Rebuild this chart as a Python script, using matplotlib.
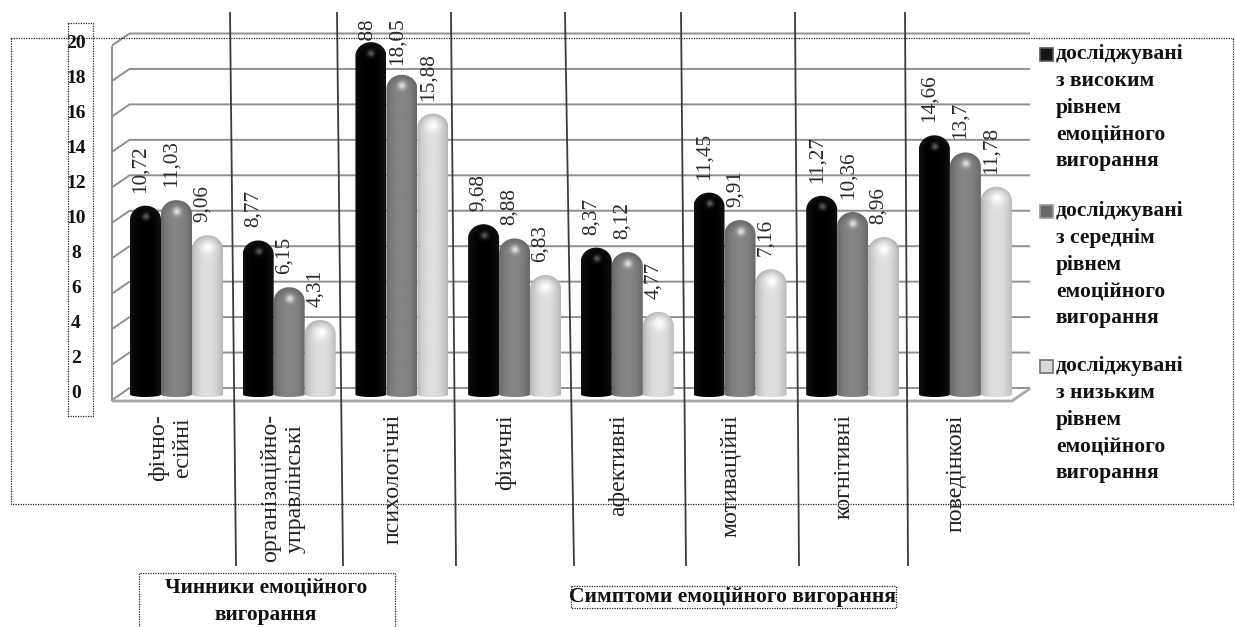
import numpy as np
import matplotlib
matplotlib.use("Agg")
import matplotlib.pyplot as plt
from matplotlib.path import Path
from matplotlib.patches import PathPatch, Rectangle
from matplotlib.transforms import Affine2D

plt.rcParams["font.family"] = ["Liberation Serif", "DejaVu Serif"]

# --- chart values -------------------------------------------------------
categories = ["фічно-\nесійні", "організаційно-\nуправлінські", "психологічні",
              "фізичні", "афективні", "мотиваційні", "когнітивні", "поведінкові"]
high_level = [10.72, 8.77, 19.88, 9.68, 8.37, 11.45, 11.27, 14.66]
mid_level = [11.03, 6.15, 18.05, 8.88, 8.12, 9.91, 10.36, 13.7]
low_level = [9.06, 4.31, 15.88, 6.83, 4.77, 7.16, 8.96, 11.78]
y_ticks = [0, 2, 4, 6, 8, 10, 12, 14, 16, 18, 20]
legend_names = ["досліджувані\nз високим\nрівнем\nемоційного\nвигорання",
                "досліджувані\nз середнім\nрівнем\nемоційного\nвигорання",
                "досліджувані\nз низьким\nрівнем\nемоційного\nвигорання"]

W, H = 1235, 627
fig = plt.figure(figsize=(W / 100, H / 100), dpi=100, facecolor="white")
ax = fig.add_axes([0, 0, 1, 1])
ax.axis("off")

# Value axis scale: 17.85 px per unit with the base at y=397; categories 112.7 px apart.
UNIT_Y, BASE_Y = 17.85, 397
UNIT_X, FIRST_X = 112.7, 176.5
ax.set_xlim((0 - FIRST_X) / UNIT_X, (W - FIRST_X) / UNIT_X)
ax.set_ylim((BASE_Y - H) / UNIT_Y, BASE_Y / UNIT_Y)

# Transform for frame furniture given in top-left based pixels.
px = Affine2D().scale(1, -1).translate(0, H)


def hline(xs, ys, color="#8f8f8f", lw=1.4, z=1, **kw):
    ax.plot(xs, ys, color=color, lw=lw, transform=px, zorder=z,
            solid_capstyle="butt", clip_on=False, **kw)


# Back wall grid and side wall
for k in range(len(y_ticks)):
    y = 33.5 + 35.45 * k
    hline([112, 129.5, 1030], [y + 12, y, y])
hline([112, 112], [45.5, 401])
hline([112, 1012, 1030], [401, 401, 388.5], color="#a8a8a8", lw=2)

# Separators between categories
sep_top = [230, 337, 451, 565, 681, 795, 905]
sep_bottom = [236, 343, 456, 574, 686, 799, 908]
for a, b in zip(sep_top, sep_bottom):
    hline([a, b], [12, 566], color="#3c3c3c", lw=1.3, z=2)

# Shading per series: centre level, edge level, highlight strength, highlight size
styles = [(0.0, 0.07, 0.36, 2.4), (0.52, 0.40, 0.36, 2.8), (0.87, 0.70, 0.12, 5.0)]
BAR_W = 31 / UNIT_X
DOME_PX = 14


def draw_bar(x_c, value, style):
    x0, x1 = x_c - BAR_W / 2, x_c + BAR_W / 2
    dome = DOME_PX / UNIT_Y
    foot = 2.5 / UNIT_Y
    th = np.linspace(0, np.pi, 40)
    top_x = x_c + BAR_W / 2 * np.cos(th)
    top_y = value - dome + dome * np.sin(th)
    bot_x = x_c - BAR_W / 2 * np.cos(th)
    bot_y = foot - foot * np.sin(th)
    outline = np.column_stack([np.r_[top_x, bot_x], np.r_[top_y, bot_y]])
    outline = np.vstack([outline, outline[0]])

    h_px = int(round(value * UNIT_Y))
    yy, xx = np.mgrid[0:h_px, 0:31]
    tx = (xx + 0.5) / 31 * 2 - 1
    ty = np.clip((DOME_PX - yy) / DOME_PX, 0, 1)
    radial = np.clip(np.sqrt(tx ** 2 + ty ** 2), 0, 1) ** 2.4
    centre, edge, amp, sig = style
    img = centre + (edge - centre) * radial
    spot = np.exp(-(((xx - 15.5) ** 2 + (yy - 11) ** 2) / (2 * sig ** 2)))
    img = np.clip(img + amp * spot, 0, 1)

    im = ax.imshow(img, extent=(x0, x1, 0, value), origin="upper", cmap="gray",
                   vmin=0, vmax=1, aspect="auto", zorder=3, interpolation="bilinear")
    clip = PathPatch(Path(outline), transform=ax.transData, fc="none", ec="none")
    ax.add_patch(clip)
    im.set_clip_path(clip)


limits = ax.get_xlim(), ax.get_ylim()
series = [high_level, mid_level, low_level]
TOP_LIMIT = 20  # value labels cannot rise above this pixel row
LABEL_PX = 45
for s, (vals, style) in enumerate(zip(series, styles)):
    for i, v in enumerate(vals):
        xc = i + (s - 1) * BAR_W
        draw_bar(xc, v, style)
        bar_top = BASE_Y - v * UNIT_Y
        gap = 13
        # A label pushed down by the plot ceiling slips behind its own bar.
        if bar_top - gap - LABEL_PX < TOP_LIMIT:
            gap = bar_top - TOP_LIMIT - LABEL_PX
        ax.annotate(f"{v:g}".replace(".", ","), xy=(xc, v), xytext=(-5, gap),
                    textcoords="offset pixels", rotation=90, ha="center", va="bottom",
                    fontsize=15.3, color="#2a2a2a", zorder=2.5 if gap < 0 else 5,
                    annotation_clip=False)
ax.set_xlim(*limits[0])
ax.set_ylim(*limits[1])

# Value axis labels
for v in y_ticks:
    ax.text(76, 394 - 17.55 * v, str(v), transform=px, ha="center", va="center",
            fontsize=14, fontweight="bold", color="#111111", zorder=6)

# Category labels, running bottom to top
for i, name in enumerate(categories):
    shift = -9 + 3 * name.count("\n")
    ax.annotate(name, xy=(i, 0), xycoords="data", xytext=(shift, -17),
                textcoords="offset pixels", rotation=90, ha="center", va="top",
                ma="center", fontsize=17.2, color="#222222", linespacing=1.2, zorder=6,
                annotation_clip=False)

# Legend block
swatches = [("#161616", "#555555"), ("#6a6a6a", "#9a9a9a"), ("#d8d8d8", "#707070")]
tops = [54, 211, 366]
for name, (fc, ec), y0 in zip(legend_names, swatches, tops):
    ax.add_patch(Rectangle((1039.5, y0 - 6.5), 13, 13, transform=px, fc=fc, ec=ec,
                           lw=1.2, zorder=6))
    for j, line in enumerate(name.split("\n")):
        ax.text(1056, y0 + 26.8 * j, line, transform=px, ha="left", va="center",
                fontsize=15.5, fontweight="bold", color="#111111", zorder=6)


def dotted_box(x0, y0, x1, y1, open_bottom=False):
    xs = [x0, x0, x1, x1] if open_bottom else [x0, x0, x1, x1, x0]
    ys = [y1, y0, y0, y1] if open_bottom else [y0, y1, y1, y0, y0]
    ax.plot(xs, ys, transform=px, color="#222222", lw=0.9, ls=(0, (1, 1)),
            zorder=7, clip_on=False)


dotted_box(10.5, 38, 1233, 503.5)
dotted_box(67.5, 23, 93, 416)
dotted_box(138.5, 572.5, 395, 627, open_bottom=True)
dotted_box(570.5, 586, 895.5, 608)

ax.text(266, 588, "Чинники емоційного", transform=px, ha="center", va="center",
        fontsize=15.4, fontweight="bold", color="#111111", zorder=6)
ax.text(266, 615, "вигорання", transform=px, ha="center", va="center",
        fontsize=15.4, fontweight="bold", color="#111111", zorder=6)
ax.text(733, 597, "Симптоми емоційного вигорання", transform=px, ha="center", va="center",
        fontsize=15.5, fontweight="bold", color="#111111", zorder=6)

fig.savefig("out.png", dpi=100, facecolor="white")
